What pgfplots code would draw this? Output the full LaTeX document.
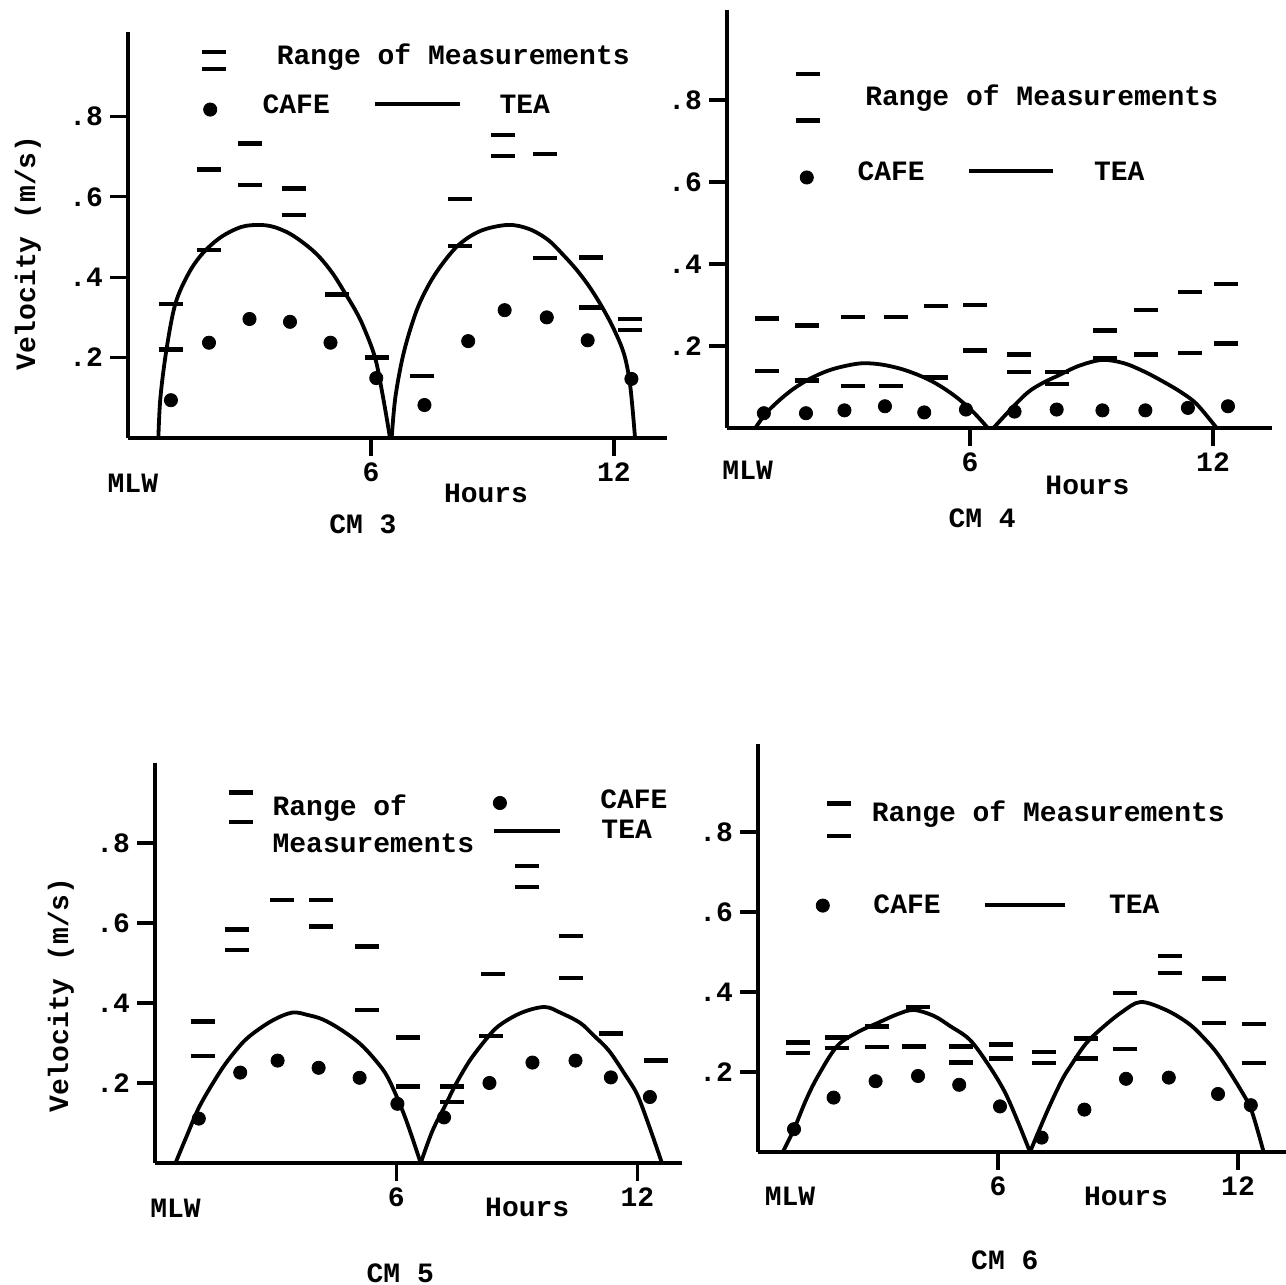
\documentclass[border=0pt]{standalone}
\usepackage{pgfplots}
\pgfplotsset{compat=1.18}
\usepackage{fontspec}
\setmainfont{Liberation Mono}
\newcommand\tw{\fontsize{14}{16}\selectfont\bfseries}
\pgfplotsset{
 panel/.style={
  anchor=south west, clip=false, xmin=0, ymin=0,
  axis x line=bottom, axis y line=left,
  axis line style={-, line width=2pt},
  tick align=outside, major tick length=9pt,
  every tick/.style={black, line width=1.6pt},
  xtick={6,12}, xticklabels={6,12},
  ytick={0.2,0.4,0.6,0.8}, yticklabels={.2,.4,.6,.8},
  tick label style={font=\tw},
 },
 rng/.style={only marks, mark=-, mark size=6pt, mark options={line width=2.2pt}, black},
 cafe/.style={only marks, mark=*, mark size=3.3pt, black},
 tea/.style={no marks, smooth, tension=0.55, line width=1.9pt, black},
 teal/.style={no marks, line width=2pt, black},
}
\begin{document}
\begin{tikzpicture}
\path[use as bounding box] (0,0) rectangle (643pt,642.5pt);
% ---------------- CM 3
\begin{axis}[panel, at={(64pt,423.5pt)}, x=20.25pt, y=201pt, xmax=13.3, ymax=1.01]
\addplot[rng] coordinates {(1.06,0.334)(1.06,0.220)(2.0,0.668)(2.0,0.468)(3.0,0.733)(3.0,0.629)(4.09,0.621)(4.09,0.555)(5.17,0.357)(6.15,0.200)(7.27,0.154)(8.2,0.594)(8.2,0.478)(9.25,0.754)(9.25,0.702)(10.3,0.706)(10.3,0.447)(11.44,0.449)(11.44,0.325)(12.4,0.296)(12.4,0.268)};
\addplot[cafe] coordinates {(1.06,0.094)(2.0,0.237)(3.0,0.296)(4.0,0.289)(5.0,0.237)(6.13,0.149)(7.32,0.082)(8.4,0.241)(9.3,0.318)(10.34,0.30)(11.35,0.243)(12.43,0.147)};
\addplot[tea] coordinates {(0.75,0)(0.8,0.10)(0.95,0.22)(1.17,0.334)(1.5,0.41)(1.85,0.46)(2.3,0.50)(2.8,0.525)(3.24,0.53)(3.6,0.525)(4.0,0.508)(4.4,0.48)(4.72,0.451)(5.05,0.41)(5.35,0.362)(5.6,0.32)(5.8,0.28)(6.1,0.2)(6.3,0.1)(6.47,0)};
\addplot[tea] coordinates {(6.51,0)(6.6,0.1)(6.78,0.2)(7.0,0.28)(7.23,0.342)(7.6,0.41)(8.13,0.477)(8.7,0.515)(9.38,0.53)(9.9,0.52)(10.37,0.493)(10.75,0.455)(11.08,0.418)(11.4,0.375)(11.71,0.325)(12.0,0.27)(12.25,0.208)(12.4,0.13)(12.52,0)};
\addplot[rng] coordinates {(2.12,0.96)(2.12,0.918)};
\addplot[cafe] coordinates {(2.03,0.817)};
\addplot[teal] coordinates {(6.1,0.83)(8.2,0.83)};
\node[anchor=west,font=\tw] at (axis cs:3.5,0.947) {Range of Measurements};
\node[anchor=west,font=\tw] at (axis cs:3.15,0.83) {CAFE};
\node[anchor=west,font=\tw] at (axis cs:9.0,0.83) {TEA};
\node[font=\tw] at (axis cs:0.12,-0.113) {MLW};
\node[font=\tw] at (axis cs:8.84,-0.139) {Hours};
\node[font=\tw] at (axis cs:5.8,-0.215) {CM 3};
\node[font=\tw, rotate=90] at (axis cs:-2.47,0.46) {Velocity (m/s)};
\end{axis}
% ---------------- CM 4
\begin{axis}[panel, at={(363.5pt,428.5pt)}, x=20.25pt, y=205pt, xmax=13.45, ymax=1.02]
\addplot[rng] coordinates {(0.98,0.267)(0.98,0.139)(1.97,0.25)(1.97,0.116)(3.1,0.27)(3.1,0.102)(4.18,0.271)(4.04,0.102)(5.17,0.298)(5.17,0.123)(6.13,0.30)(6.13,0.189)(7.22,0.179)(7.22,0.137)(8.14,0.137)(8.14,0.108)(9.33,0.238)(9.33,0.171)(10.35,0.288)(10.35,0.179)(11.43,0.332)(11.43,0.183)(12.33,0.351)(12.33,0.206)};
\addplot[cafe] coordinates {(0.91,0.036)(1.95,0.036)(2.9,0.043)(3.9,0.053)(4.87,0.038)(5.9,0.045)(7.1,0.04)(8.14,0.045)(9.27,0.043)(10.33,0.043)(11.38,0.049)(12.37,0.053)};
\addplot[tea] coordinates {(0.7,0)(1.0,0.04)(1.5,0.085)(1.97,0.116)(2.5,0.14)(3.0,0.153)(3.38,0.158)(3.8,0.155)(4.23,0.146)(4.6,0.134)(4.98,0.118)(5.35,0.097)(5.73,0.07)(6.1,0.037)(6.44,0)};
\addplot[tea] coordinates {(6.58,0)(7.0,0.045)(7.43,0.087)(7.8,0.11)(8.18,0.128)(8.7,0.152)(9.27,0.166)(9.8,0.158)(10.25,0.14)(10.7,0.117)(11.2,0.088)(11.6,0.058)(12.09,0)};
\addplot[rng] coordinates {(2.0,0.863)(2.0,0.75)};
\addplot[cafe] coordinates {(1.97,0.611)};
\addplot[teal] coordinates {(5.97,0.626)(8.04,0.626)};
\node[anchor=west,font=\tw] at (axis cs:3.24,0.804) {Range of Measurements};
\node[anchor=west,font=\tw] at (axis cs:3.05,0.626) {CAFE};
\node[anchor=west,font=\tw] at (axis cs:8.89,0.626) {TEA};
\node[font=\tw] at (axis cs:0.51,-0.103) {MLW};
\node[font=\tw] at (axis cs:8.9,-0.141) {Hours};
\node[font=\tw] at (axis cs:6.3,-0.22) {CM 4};
\end{axis}
% ---------------- CM 5
\begin{axis}[panel, at={(77.5pt,61pt)}, x=20.1pt, y=200pt, xmax=13.1, ymax=1.0]
\addplot[rng] coordinates {(1.2,0.354)(1.2,0.268)(2.03,0.584)(2.03,0.533)(3.15,0.657)(4.14,0.658)(4.14,0.591)(5.27,0.541)(5.27,0.383)(6.29,0.314)(6.29,0.191)(7.4,0.191)(7.4,0.152)(8.4,0.472)(8.36,0.318)(9.26,0.742)(9.26,0.69)(10.36,0.568)(10.36,0.462)(11.34,0.324)(12.46,0.256)};
\addplot[cafe] coordinates {(1.09,0.111)(2.12,0.226)(3.05,0.256)(4.07,0.238)(5.09,0.213)(6.03,0.148)(7.19,0.114)(8.32,0.2)(9.39,0.251)(10.46,0.256)(11.34,0.214)(12.31,0.165)};
\addplot[tea] coordinates {(0.51,0)(0.8,0.07)(1.12,0.144)(1.63,0.23)(2.0,0.28)(2.34,0.316)(2.9,0.355)(3.41,0.376)(3.8,0.37)(4.17,0.359)(4.6,0.335)(5.09,0.299)(5.5,0.255)(5.8,0.212)(6.2,0.12)(6.61,0)};
\addplot[tea] coordinates {(6.61,0)(6.9,0.08)(7.22,0.144)(7.5,0.2)(7.83,0.256)(8.2,0.305)(8.54,0.342)(9.1,0.375)(9.69,0.39)(10.1,0.375)(10.58,0.35)(10.9,0.32)(11.29,0.281)(11.7,0.22)(12.0,0.17)(12.3,0.09)(12.61,0)};
\addplot[rng] coordinates {(2.14,0.926)(2.14,0.853)};
\addplot[cafe] coordinates {(8.58,0.9)};
\addplot[teal] coordinates {(8.44,0.83)(10.07,0.83)};
\node[anchor=west,font=\tw] at (axis cs:2.75,0.888) {Range of};
\node[anchor=west,font=\tw] at (axis cs:2.75,0.80) {Measurements};
\node[anchor=west,font=\tw] at (axis cs:10.9,0.91) {CAFE};
\node[anchor=west,font=\tw] at (axis cs:10.93,0.834) {TEA};
\node[font=\tw] at (axis cs:0.51,-0.112) {MLW};
\node[font=\tw] at (axis cs:9.26,-0.112) {Hours};
\node[font=\tw] at (axis cs:6.1,-0.275) {CM 5};
\node[font=\tw, rotate=90] at (axis cs:-2.34,0.42) {Velocity (m/s)};
\end{axis}
% ---------------- CM 6
\begin{axis}[panel, at={(379pt,66.5pt)}, x=20pt, y=200pt, xmax=13.2, ymax=1.02]
\addplot[rng] coordinates {(0.99,0.274)(0.99,0.248)(1.98,0.286)(1.98,0.26)(2.98,0.314)(2.98,0.263)(4.0,0.363)(3.9,0.264)(5.07,0.264)(5.07,0.224)(6.07,0.269)(6.07,0.234)(7.14,0.25)(7.14,0.222)(8.19,0.284)(8.19,0.234)(9.18,0.397)(9.18,0.258)(10.3,0.49)(10.3,0.447)(11.4,0.434)(11.4,0.323)(12.39,0.32)(12.39,0.222)};
\addplot[cafe] coordinates {(0.9,0.057)(1.89,0.136)(2.94,0.177)(4.0,0.19)(5.03,0.168)(6.05,0.114)(7.09,0.036)(8.16,0.106)(9.2,0.183)(10.27,0.186)(11.5,0.145)(12.32,0.117)};
\addplot[tea] coordinates {(0.62,0)(0.9,0.057)(1.2,0.13)(1.5,0.19)(1.98,0.265)(2.5,0.3)(2.98,0.322)(3.5,0.345)(3.9,0.355)(4.4,0.34)(4.8,0.315)(5.3,0.28)(5.78,0.215)(6.17,0.15)(6.5,0.075)(6.8,0)};
\addplot[tea] coordinates {(6.8,0)(7.24,0.104)(7.6,0.18)(7.82,0.216)(8.19,0.27)(8.6,0.31)(9.1,0.35)(9.57,0.375)(10.2,0.355)(10.74,0.323)(11.1,0.29)(11.52,0.241)(12.1,0.15)(12.35,0.1)(12.64,0)};
\addplot[rng] coordinates {(2.03,0.871)(2.03,0.79)};
\addplot[cafe] coordinates {(1.62,0.616)};
\addplot[teal] coordinates {(5.68,0.617)(7.67,0.617)};
\node[anchor=west,font=\tw] at (axis cs:2.67,0.845) {Range of Measurements};
\node[anchor=west,font=\tw] at (axis cs:2.71,0.62) {CAFE};
\node[anchor=west,font=\tw] at (axis cs:8.6,0.62) {TEA};
\node[font=\tw] at (axis cs:0.8,-0.11) {MLW};
\node[font=\tw] at (axis cs:9.2,-0.11) {Hours};
\node[font=\tw] at (axis cs:6.17,-0.27) {CM 6};
\end{axis}
\end{tikzpicture}
\end{document}
